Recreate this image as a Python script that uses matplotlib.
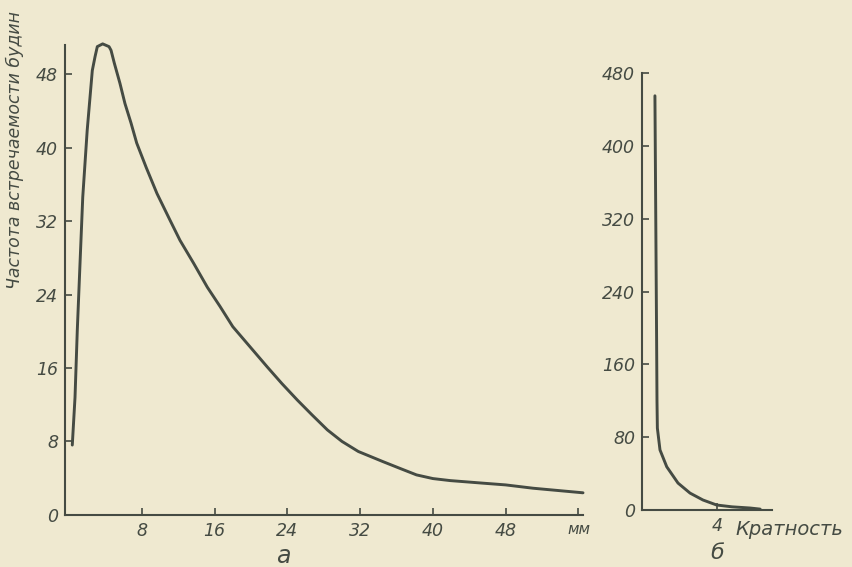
import matplotlib.pyplot as plt

# panel a: frequency of boudins vs length, mm
length_mm = [0.36, 0.66, 0.91, 1.21, 1.51, 2.0, 2.31, 2.56, 2.86, 3.11, 3.70,
             4.40, 4.62, 4.98, 5.60, 6.15, 6.81, 7.44, 8.5, 9.67, 11.1, 12.2, 13.7,
             15.2, 16.6, 18.0, 19.9, 21.8, 23.4, 25.1, 26.7, 28.4, 30.0, 31.8, 34.5,
             36.4, 38.2, 40.0, 41.9, 45.5, 48.0, 51.0, 56.5]
freq_a = [7.6, 12.8, 20.1, 27.4, 34.6, 41.9, 45.5, 48.4, 49.9, 51.0, 51.3,
          51.0, 50.6, 49.2, 47.0, 44.8, 42.7, 40.5, 37.8, 35.0, 32.1, 29.9, 27.4,
          24.8, 22.7, 20.5, 18.3, 16.1, 14.3, 12.5, 10.9, 9.25, 8.0, 6.9, 5.8,
          5.05, 4.35, 3.95, 3.73, 3.45, 3.26, 2.9, 2.4]
xticks_a = [8, 16, 24, 32, 40, 48, 56]
xlabels_a = ["8", "16", "24", "32", "40", "48", "мм"]
yticks_a = [0, 8, 16, 24, 32, 40, 48]

# panel b: frequency vs multiplicity
mult = [0.69, 0.78, 0.80, 0.82, 0.96, 1.32, 1.92, 2.56, 3.25, 3.98, 4.8, 5.76, 6.3]
freq_b = [455, 186, 120, 90, 66, 47.5, 29.6, 18.6, 11.0, 5.5, 3.5, 2.2, 1.0]
yticks_b = [0, 80, 160, 240, 320, 400, 480]

paper = "#efe9d0"
ink = "#454b43"

plt.rcParams["font.family"] = ["Liberation Sans Narrow", "DejaVu Sans"]
plt.rcParams["font.style"] = "italic"

fig = plt.figure(figsize=(8.52, 5.67), dpi=100, facecolor=paper)
ax1 = fig.add_axes([0.0763, 0.092, 0.608, 0.829])
ax2 = fig.add_axes([0.7535, 0.1005, 0.1526, 0.7707])

for ax in (ax1, ax2):
    ax.set_facecolor(paper)
    for s in ("top", "right"):
        ax.spines[s].set_visible(False)
    for s in ("left", "bottom"):
        ax.spines[s].set_color(ink)
        ax.spines[s].set_linewidth(1.5)
    ax.tick_params(direction="in", length=5, width=1.2, colors=ink,
                   labelsize=12.5, pad=5)

ax1.plot(length_mm, freq_a, color=ink, lw=2.1, clip_on=False,
         solid_joinstyle="round", solid_capstyle="round")
ax1.set_xlim(-0.44, 56.5)
ax1.set_ylim(0, 51.2)
ax1.set_xticks(xticks_a, xlabels_a)
ax1.set_yticks(yticks_a)
ax1.get_xticklabels()[-1].set_fontsize(11)

ax2.plot(mult, freq_b, color=ink, lw=2.1, clip_on=False,
         solid_joinstyle="round", solid_capstyle="round")
ax2.set_xlim(0, 6.93)
ax2.set_ylim(0, 480)
ax2.set_xticks([4])
ax2.set_yticks(yticks_b)
ax2.text(5.0, -11, "Кратность", color=ink, fontsize=14, ha="left", va="top")

fig.text(0.018, 0.735, "Частота встречаемости будин", rotation=90, color=ink,
         fontsize=12.5, ha="center", va="center")
fig.text(283 / 852, 1 - 556 / 567, "а", color=ink, fontsize=17, ha="center",
         va="center")
fig.text(717 / 852, 1 - 553 / 567, "б", color=ink, fontsize=16, ha="center",
         va="center")

fig.savefig("out.png", dpi=100, facecolor=paper)
